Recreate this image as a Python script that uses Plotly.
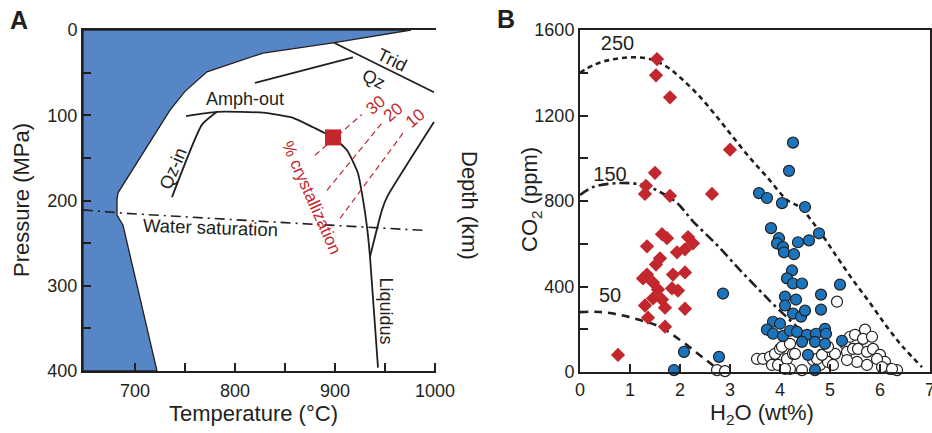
import plotly.graph_objects as go

W, H = 932, 433
FONT = "Liberation Sans, Arial, Helvetica, sans-serif"
INK = "#231f20"
RED = "#c1272d"
BLUE = "#1c75bc"
FILL = "#5686c6"

# ---------------- Panel A data (Temperature °C, Pressure MPa) ----------------
melt_region_T = [648, 976, 898, 828, 772, 750, 735, 683, 682, 682, 688, 722, 648, 648]
melt_region_P = [0, 0, 15, 27, 49, 72, 94, 191, 199, 217, 229, 400, 400, 0]

amph_out_T = [751, 782, 828, 858, 878, 898, 912, 923, 928, 932, 935, 943]
amph_out_P = [101, 96, 97, 103, 114, 126, 141, 168, 199, 231, 266, 396]

right_branch_T = [999, 952, 947, 935]
right_branch_P = [108, 196, 211, 266]

qz_in_T = [737, 767, 782]
qz_in_P = [196, 111, 96]

qz_T = [820, 918]
qz_P = [62, 32]

trid_T = [899, 999]
trid_P = [15, 73]

water_sat_T = [648, 690, 850, 900, 988]
water_sat_P = [211, 215, 226, 229, 235]

cryst_levels = ["30", "20", "10"]
cryst_T = [[880, 927], [892, 947], [905, 968]]
cryst_P = [[147, 99], [188, 109], [221, 121]]
cryst_label_T = [940, 958, 980]
cryst_label_P = [88, 97, 104]

sample_T = [898]
sample_P = [126]

temp_ticks = [700, 750, 800, 850, 900, 950, 1000]
temp_ticktext = ["700", "", "800", "", "900", "", "1000"]
press_ticks = [0, 50, 100, 150, 200, 250, 300, 350, 400]
press_ticktext = ["0", "", "100", "", "200", "", "300", "", "400"]
depth_ticks = [0, 2, 4, 6, 8, 10, 12, 14]
depth_ticktext = ["0", "2", "4", "6", "8", "10", "12", "14"]

# ---------------- Panel B data (H2O wt%, CO2 ppm) ----------------
iso250_h2o = [0, 0.27, 0.6, 1.0, 1.4, 1.74, 2.06, 2.4, 2.74, 3.06, 3.4, 3.74, 4.14, 4.4, 4.8, 5.14, 5.46, 5.8, 6.14, 6.46, 6.84]
iso250_co2 = [1400, 1436, 1460, 1472, 1464, 1427, 1366, 1287, 1193, 1099, 1001, 912, 805, 770, 655, 538, 430, 323, 211, 117, 23]

iso150_h2o = [0, 0.27, 0.8, 1.26, 1.6, 1.94, 2.26, 2.74, 3.2, 3.6, 3.86, 4.34, 4.64, 4.9, 5.1]
iso150_co2 = [828, 866, 884, 875, 842, 791, 705, 594, 477, 380, 318, 211, 140, 70, 9]

iso50_h2o = [0, 0.4, 0.8, 1.2, 1.6, 2.0, 2.34, 2.6, 2.8]
iso50_co2 = [280, 281, 267, 243, 211, 150, 89, 42, 5]

red_h2o = [1.54, 1.52, 1.8, 3.0, 1.5, 1.32, 1.3, 1.8, 2.64,
           1.64, 1.74, 1.34, 2.16, 2.26, 2.1, 1.94, 1.6, 1.52, 2.1, 1.86,
           1.34, 1.26, 1.46, 1.56, 1.84, 1.96, 1.46, 1.64, 1.3, 1.7, 2.1,
           1.36, 1.7, 0.76]
red_co2 = [1464, 1388, 1285, 1040, 932, 871, 833, 824, 833,
           645, 626, 588, 631, 602, 574, 560, 532, 503, 466, 456,
           456, 438, 419, 386, 391, 381, 344, 339, 311, 301, 296,
           254, 212, 80]

blue_h2o = [4.26, 4.18, 3.58, 3.74, 4.04, 4.5,
            3.82, 3.98, 3.94, 4.06, 4.08, 4.28, 4.36, 4.58, 4.78,
            4.24, 4.14, 4.26, 4.44, 5.2, 4.1, 4.32, 4.82,
            4.1, 4.26, 4.42, 4.5, 4.82, 3.86, 4.0, 3.74, 3.86, 4.06, 4.2,
            4.34, 4.54, 4.72, 4.9, 4.92, 4.44, 4.7, 4.9, 5.24, 4.56, 4.7,
            2.86, 2.08, 2.78, 1.88]
blue_co2 = [1073, 941, 837, 814, 790, 772,
            673, 626, 602, 584, 560, 551, 607, 616, 649,
            475, 438, 414, 414, 409, 353, 339, 362,
            311, 273, 259, 287, 292, 235, 226, 198, 179, 169, 193,
            188, 174, 179, 202, 179, 141, 141, 132, 146, 80, 9,
            367, 94, 71, 9]

open_h2o = [5.14, 3.54, 3.66, 3.8, 3.9, 4.0, 3.84, 3.96, 4.14, 4.26, 4.2,
            4.44, 4.66, 4.8, 4.94, 4.96, 5.06, 5.1, 4.04, 4.2, 4.1, 4.3,
            4.74, 4.84, 4.96, 5.3, 5.4, 5.5, 5.7, 5.66, 5.84, 5.34, 5.46,
            5.56, 5.74, 5.86, 6.0, 6.1, 6.2, 6.34, 5.54, 5.74, 5.34, 5.94,
            6.04, 6.24, 2.74, 2.9]
open_co2 = [329, 61, 61, 71, 85, 108, 33, 33, 61, 85, 14,
            9, 56, 33, 71, 47, 33, 85, 118, 132, 14, 85,
            61, 80, 118, 132, 165, 174, 198, 155, 165, 94, 108,
            108, 94, 108, 80, 47, 14, 9, 47, 33, 56, 61,
            23, 14, 9, 4]

h2o_ticks = [0, 1, 2, 3, 4, 5, 6, 7]
h2o_ticktext = ["0", "1", "2", "3", "4", "5", "6", "7"]
co2_ticks = [0, 200, 400, 600, 800, 1000, 1200, 1400, 1600]
co2_ticktext = ["0", "", "400", "", "800", "", "1200", "", "1600"]

iso_labels = ["250", "150", "50"]
iso_label_h2o = [0.75, 0.6, 0.6]
iso_label_co2 = [1530, 918, 350]

# ---------------- Figure ----------------
def fx(p):
    return p / W

def fy(p):
    return 1 - p / H

fig = go.Figure()

# Panel A traces
fig.add_trace(go.Scatter(x=melt_region_T, y=melt_region_P, mode="lines", fill="toself",
                         fillcolor=FILL, line=dict(color=INK, width=1.3),
                         xaxis="x", yaxis="y", hoverinfo="skip"))
fig.add_trace(go.Scatter(x=water_sat_T, y=water_sat_P, mode="lines",
                         line=dict(color=INK, width=1.6, dash="10px,5px,2px,5px"),
                         xaxis="x", yaxis="y"))
for tx, ty in [(amph_out_T, amph_out_P), (right_branch_T, right_branch_P),
               (qz_in_T, qz_in_P), (qz_T, qz_P), (trid_T, trid_P)]:
    fig.add_trace(go.Scatter(x=tx, y=ty, mode="lines", line=dict(color=INK, width=1.8, shape="spline", smoothing=0.5),
                             xaxis="x", yaxis="y"))
for tx, ty in zip(cryst_T, cryst_P):
    fig.add_trace(go.Scatter(x=tx, y=ty, mode="lines", line=dict(color=RED, width=1.2, dash="6px,4px"),
                             xaxis="x", yaxis="y"))
fig.add_trace(go.Scatter(x=sample_T, y=sample_P, mode="markers",
                         marker=dict(symbol="square", size=16, color=RED, line=dict(width=0)),
                         xaxis="x", yaxis="y"))

# Panel B traces
fig.add_trace(go.Scatter(x=iso250_h2o, y=iso250_co2, mode="lines",
                         line=dict(color=INK, width=2.6, dash="5px,4px", shape="spline"),
                         xaxis="x2", yaxis="y2"))
fig.add_trace(go.Scatter(x=iso150_h2o, y=iso150_co2, mode="lines",
                         line=dict(color=INK, width=2.6, dash="10px,4px,3px,4px", shape="spline"),
                         xaxis="x2", yaxis="y2"))
fig.add_trace(go.Scatter(x=iso50_h2o, y=iso50_co2, mode="lines",
                         line=dict(color=INK, width=2.6, dash="8px,6px", shape="spline"),
                         xaxis="x2", yaxis="y2"))
fig.add_trace(go.Scatter(x=open_h2o, y=open_co2, mode="markers",
                         marker=dict(symbol="circle", size=11, color="white",
                                     line=dict(color=INK, width=1.2)),
                         xaxis="x2", yaxis="y2", cliponaxis=False))
fig.add_trace(go.Scatter(x=blue_h2o, y=blue_co2, mode="markers",
                         marker=dict(symbol="circle", size=11, color=BLUE,
                                     line=dict(color=INK, width=1.2)),
                         xaxis="x2", yaxis="y2", cliponaxis=False))
fig.add_trace(go.Scatter(x=red_h2o, y=red_co2, mode="markers",
                         marker=dict(symbol="diamond", size=11, color=RED, line=dict(width=0)),
                         xaxis="x2", yaxis="y2"))
fig.add_trace(go.Scatter(x=iso_label_h2o, y=iso_label_co2, mode="text", text=iso_labels,
                         textfont=dict(family=FONT, size=20, color=INK), xaxis="x2", yaxis="y2",
                         hoverinfo="skip"))

ax_common = dict(showline=True, linecolor=INK, linewidth=2, ticks="inside", ticklen=8,
                 tickwidth=2, tickcolor=INK, showgrid=False, zeroline=False, automargin=False,
                 tickfont=dict(family=FONT, size=18, color=INK))

yA_dom = [fy(371), fy(30)]
yB_dom = [fy(372), fy(30)]

fig.update_layout(
    template="none",
    width=W, height=H, margin=dict(l=0, r=0, t=0, b=0, pad=0),
    paper_bgcolor="white", plot_bgcolor="rgba(0,0,0,0)", showlegend=False,
    xaxis=dict(ax_common, domain=[fx(83), fx(436)], range=[648, 1001], anchor="y",
               tickmode="array", tickvals=temp_ticks, ticktext=temp_ticktext, mirror=True,
               ticklabelstandoff=2),
    yaxis=dict(ax_common, domain=yA_dom, range=[400, 0], anchor="x",
               tickmode="array", tickvals=press_ticks, ticktext=press_ticktext),
    yaxis3=dict(ax_common, overlaying="y", side="right", anchor="x", range=[15.1, 0],
                tickmode="array", tickvals=depth_ticks, ticktext=depth_ticktext),
    xaxis2=dict(ax_common, domain=[fx(580), fx(930)], range=[0, 7], anchor="y2",
                tickmode="array", tickvals=h2o_ticks, ticktext=h2o_ticktext, mirror=True,
                ticklabeloverflow="allow"),
    yaxis2=dict(ax_common, domain=yB_dom, range=[0, 1600], anchor="x2",
                tickmode="array", tickvals=co2_ticks, ticktext=co2_ticktext, mirror=True),
)

ann = []
def label(text, x, y, size=18, angle=0, color=INK, ref="x", yref="y", bold=False):
    ann.append(dict(text=f"<b>{text}</b>" if bold else text, x=x, y=y, xref=ref, yref=yref,
                    showarrow=False, textangle=angle,
                    font=dict(family=FONT, size=size, color=color),
                    xanchor="center", yanchor="middle"))

# Panel A in-plot labels
label("Trid", 957, 35, angle=26)
label("Qz", 938, 58, angle=26)
label("Amph-out", 810, 81)
label("Qz-in", 738, 163, angle=-67)
label("Water saturation", 775, 232, size=18.5, angle=2)
label("Liquidus", 951, 329, angle=90)
label("% crystallization", 876, 197, size=17, angle=66, color=RED)
for t, tx, ty in zip(cryst_levels, cryst_label_T, cryst_label_P):
    label(t, tx, ty, size=17, angle=-40, color=RED)

# Axis titles & panel letters (paper coords)
label("Pressure (MPa)", fx(22), fy(200), size=22, angle=-90, ref="paper", yref="paper")
label("Temperature (°C)", fx(253), fy(413), size=22, ref="paper", yref="paper")
label("Depth (km)", fx(470), fy(205), size=22, angle=90, ref="paper", yref="paper")
label("CO<sub>2</sub> (ppm)", fx(531), fy(200), size=22, angle=-90, ref="paper", yref="paper")
label("H<sub>2</sub>O (wt%)", fx(762), fy(414), size=22, ref="paper", yref="paper")
label("A", fx(19), fy(20), size=25, ref="paper", yref="paper", bold=True)
label("B", fx(506), fy(19), size=25, ref="paper", yref="paper", bold=True)

fig.update_layout(annotations=ann)
fig.write_html("out.html", config={"displayModeBar": False},
               post_script="document.body.style.margin='0';document.body.style.overflow='hidden';")
